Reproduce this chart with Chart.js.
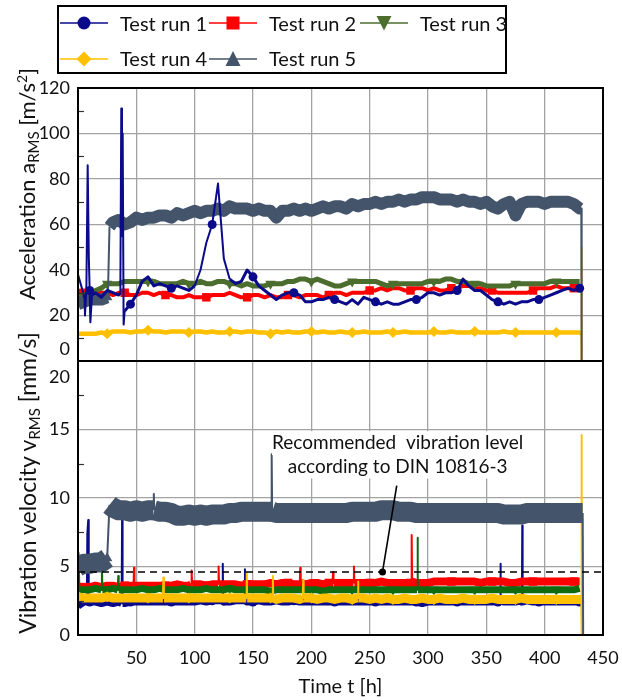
<!DOCTYPE html>
<html>
<head>
<meta charset="utf-8">
<title>Test runs: acceleration and vibration velocity</title>
<script src="https://cdn.jsdelivr.net/npm/chart.js@4.4.1/dist/chart.umd.min.js"></script>
<style>
  body { margin: 0; background: #fff; font-family: Lato, sans-serif; color: #111; }
  #page { position: relative; width: 622px; height: 700px; overflow: hidden; }
  canvas { position: absolute; left: 0; }
  #accChart { top: 0; }
  #velChart { top: 340px; }
  #legendBox { position: absolute; left: 57px; top: 5px; width: 446px; height: 65px; border: 2px solid #000; }
  .legend-sym { position: absolute; width: 48px; height: 24px; }
  .legend-text { position: absolute; font-size: 20px; line-height: 24px; white-space: nowrap; }
  .axis-title { position: absolute; left: 27px; transform: translate(-50%, -50%) rotate(-90deg);
                white-space: nowrap; line-height: 1; }
  .axis-title sub { font-size: 15px; vertical-align: -4px; line-height: 0; }
  .axis-title sup { font-size: 14px; vertical-align: 8px; line-height: 0; }
</style>
</head>
<body>
<div id="page">
  <canvas id="accChart" width="622" height="370"></canvas>
  <canvas id="velChart" width="622" height="360"></canvas>
  <div id="legendBox"></div>
  <div class="axis-title" style="top:184px;font-size:22px">Acceleration a<sub>RMS</sub> [m/s<sup>2</sup>]</div>
  <div class="axis-title" style="top:483px;font-size:23px">Vibration velocity v<sub>RMS</sub> [mm/s]</div>
</div>
<script>
// sample times [h], one sample every 5 h
const hours = [0, 5, 10, 15, 20, 25, 30, 35, 40, 45,
  50, 55, 60, 65, 70, 75, 80, 85, 90, 95,
  100, 105, 110, 115, 120, 125, 130, 135, 140, 145,
  150, 155, 160, 165, 170, 175, 180, 185, 190, 195,
  200, 205, 210, 215, 220, 225, 230, 235, 240, 245,
  250, 255, 260, 265, 270, 275, 280, 285, 290, 295,
  300, 305, 310, 315, 320, 325, 330, 335, 340, 345,
  350, 355, 360, 365, 370, 375, 380, 385, 390, 395,
  400, 405, 410, 415, 420, 425, 430];

const runLabels = ['Test run 1', 'Test run 2', 'Test run 3', 'Test run 4', 'Test run 5'];

// acceleration a_RMS [m/s²]
const accRun1 = [38, 29, 31, 30, 28, 31, 30, 29, 22, 25,
  29, 35, 37, 33, 34, 33, 32, 33, 32, 31,
  33, 40, 52, 60, 78, 45, 36, 34, 35, 40,
  37, 33, 31, 29, 27, 29, 30, 30, 29, 26,
  26, 27, 27, 28, 27, 26, 25, 27, 25, 28,
  27, 26, 25, 26, 25, 25, 26, 27, 27, 28,
  30, 30, 29, 30, 30, 31, 36, 33, 31, 31,
  29, 27, 26, 25, 26, 25, 26, 26, 27, 27,
  28, 29, 30, 31, 32, 31, 32];
const accRun2 = [31, 30, 29, 30, 30, 30, 29, 30, 30, 29,
  29, 30, 30, 29, 30, 29, 29, 28, 28, 29,
  28, 28, 28, 29, 29, 29, 30, 29, 28, 28,
  29, 29, 28, 29, 28, 28, 29, 29, 28, 29,
  29, 29, 28, 29, 30, 30, 29, 30, 30, 30,
  31, 31, 32, 31, 32, 32, 31, 31, 32, 32,
  31, 32, 31, 31, 32, 32, 33, 33, 32, 32,
  31, 31, 30, 30, 30, 30, 30, 30, 31, 32,
  32, 32, 33, 32, 32, 32, 32];
const accRun3 = [28, 29, 30, 31, 32, 34, 34, 34, 35, 35,
  35, 35, 35, 35, 34, 34, 34, 34, 35, 34,
  34, 35, 34, 34, 35, 35, 34, 34, 33, 34,
  33, 33, 33, 34, 34, 34, 35, 35, 36, 36,
  35, 36, 35, 34, 33, 33, 34, 35, 35, 35,
  35, 35, 34, 33, 34, 34, 34, 34, 34, 34,
  35, 35, 35, 36, 36, 35, 35, 34, 34, 34,
  33, 33, 33, 33, 33, 34, 34, 34, 34, 34,
  34, 35, 35, 35, 35, 35, 35];
const accRun4 = [12, 12, 12, 12, 12.5, 12, 13, 13, 13, 12.5,
  13, 13, 13.5, 13, 13, 12.5, 13, 13, 13, 12.5,
  13, 13, 12.5, 13, 12.5, 12.5, 13, 13, 12.5, 13,
  13, 12.5, 12.5, 12, 13, 12.5, 13, 12.5, 12.5, 13,
  13, 12.5, 13, 12.5, 12.5, 13, 12.5, 12.5, 12.5, 13,
  12.5, 12.5, 12.5, 13, 12.5, 12.5, 13, 12.5, 12.5, 12.5,
  12.5, 13, 12.5, 12.5, 13, 12.5, 12.5, 12.5, 13, 12.5,
  12.5, 12.5, 12.5, 13, 12.5, 12.5, 12.5, 12.5, 12.5, 12.5,
  12.5, 12.5, 12.5, 12.5, 12.5, 12.5, 12.5];
const accRun5 = [25, 26, 27, 27, 27, 28, 61, 62, 60, 61,
  63, 62, 63, 63, 64, 64, 63, 65, 64, 65,
  66, 65, 66, 66, 67, 66, 68, 67, 67, 67,
  66, 67, 66, 66, 63, 66, 66, 67, 66, 67,
  66, 67, 68, 67, 68, 68, 67, 69, 68, 69,
  69, 70, 69, 70, 70, 71, 70, 71, 71, 72,
  72, 72, 71, 71, 71, 70, 71, 70, 70, 69,
  70, 68, 67, 69, 70, 64, 69, 70, 70, 70,
  69, 70, 70, 70, 70, 69, 67];

// short events between the 5 h samples: [t, value]
const accRun1Extra = [[5.6, 28], [6, 20], [7.2, 33], [8.3, 86], [9.3, 45], [10.6, 17], [12, 29],
  [36.3, 30], [37.1, 111], [37.7, 55], [38.3, 100], [39.1, 16]];
const accRun2Extra = [];
const accRun3Extra = [];
const accRun4Extra = [[431.4, 12], [431.6, 50], [431.8, 0]];
const accRun5Extra = [[25.6, 28], [27, 59], [431.4, 67], [431.7, 0]];

// vibration velocity v_RMS [mm/s]
const velRun1 = [2.1, 2.4, 2.4, 2.4, 2.3, 2.4, 2.3, 2.4, 2.3, 2.4,
  2.4, 2.4, 2.4, 2.4, 2.4, 2.4, 2.4, 2.4, 2.4, 2.4,
  2.4, 2.5, 2.4, 2.5, 2.5, 2.4, 2.4, 2.5, 2.5, 2.4,
  2.4, 2.5, 2.4, 2.4, 2.5, 2.4, 2.4, 2.5, 2.4, 2.4,
  2.4, 2.4, 2.4, 2.4, 2.4, 2.4, 2.4, 2.4, 2.4, 2.4,
  2.4, 2.4, 2.4, 2.4, 2.4, 2.4, 2.4, 2.4, 2.4, 2.3,
  2.4, 2.4, 2.4, 2.4, 2.4, 2.4, 2.4, 2.4, 2.4, 2.4,
  2.4, 2.4, 2.4, 2.4, 2.4, 2.4, 2.5, 2.5, 2.4, 2.4,
  2.4, 2.4, 2.4, 2.4, 2.4, 2.4, 2.4];
const velRun2 = [3.4, 3.5, 3.5, 3.6, 3.5, 3.6, 3.6, 3.5, 3.6, 3.6,
  3.6, 3.6, 3.6, 3.6, 3.6, 3.6, 3.6, 3.7, 3.6, 3.6,
  3.7, 3.7, 3.6, 3.7, 3.7, 3.7, 3.7, 3.7, 3.6, 3.7,
  3.7, 3.7, 3.7, 3.8, 3.7, 3.8, 3.8, 3.7, 3.7, 3.7,
  3.8, 3.8, 3.7, 3.8, 3.8, 3.8, 3.8, 3.8, 3.8, 3.8,
  3.8, 3.8, 3.9, 3.8, 3.8, 3.8, 3.8, 3.8, 3.8, 3.8,
  3.8, 3.9, 3.9, 3.9, 3.9, 3.9, 3.9, 3.9, 3.9, 3.8,
  3.9, 3.9, 3.9, 3.9, 3.8, 3.8, 3.9, 3.9, 3.9, 3.9,
  3.9, 3.9, 3.9, 3.9, 3.9, 3.9, 3.9];
const velRun3 = [3.4, 3.3, 3.3, 3.4, 3.3, 3.3, 3.4, 3.3, 3.3, 3.3,
  3.3, 3.4, 3.3, 3.3, 3.4, 3.3, 3.3, 3.3, 3.4, 3.3,
  3.3, 3.3, 3.4, 3.3, 3.3, 3.3, 3.4, 3.3, 3.3, 3.3,
  3.3, 3.3, 3.3, 3.2, 3.3, 3.3, 3.3, 3.3, 3.3, 3.3,
  3.3, 3.3, 3.2, 3.3, 3.3, 3.3, 3.3, 3.3, 3.3, 3.3,
  3.3, 3.3, 3.3, 3.3, 3.3, 3.3, 3.3, 3.3, 3.3, 3.3,
  3.3, 3.3, 3.3, 3.3, 3.3, 3.3, 3.3, 3.3, 3.3, 3.3,
  3.3, 3.3, 3.3, 3.3, 3.3, 3.3, 3.3, 3.3, 3.3, 3.3,
  3.3, 3.3, 3.3, 3.3, 3.3, 3.3, 3.4];
const velRun4 = [2.8, 2.7, 2.7, 2.7, 2.7, 2.8, 2.7, 2.7, 2.7, 2.7,
  2.7, 2.7, 2.7, 2.7, 2.7, 2.7, 2.7, 2.7, 2.7, 2.7,
  2.7, 2.7, 2.7, 2.7, 2.7, 2.7, 2.7, 2.7, 2.7, 2.7,
  2.7, 2.7, 2.7, 2.7, 2.6, 2.7, 2.7, 2.7, 2.6, 2.7,
  2.7, 2.6, 2.7, 2.7, 2.6, 2.7, 2.7, 2.6, 2.7, 2.7,
  2.6, 2.7, 2.6, 2.7, 2.6, 2.6, 2.7, 2.6, 2.6, 2.7,
  2.6, 2.6, 2.7, 2.6, 2.6, 2.6, 2.7, 2.6, 2.6, 2.6,
  2.6, 2.7, 2.6, 2.6, 2.6, 2.6, 2.7, 2.6, 2.6, 2.6,
  2.6, 2.6, 2.6, 2.6, 2.6, 2.6, 2.6];
const velRun5 = [5.0, 5.2, 5.2, 5.3, 5.3, 5.6, 9.3, 9.1, 9.1, 9.0,
  9.1, 9.0, 9.1, 9.1, 9.0, 9.0, 8.9, 8.7, 8.7, 8.8,
  8.7, 8.8, 8.7, 8.8, 8.8, 8.8, 8.9, 8.9, 9.0, 9.0,
  9.0, 9.0, 9.0, 9.0, 8.9, 8.9, 8.9, 8.9, 8.9, 8.9,
  8.9, 8.9, 8.9, 8.9, 8.9, 8.9, 8.9, 9.0, 9.0, 9.0,
  9.0, 9.0, 9.1, 9.1, 9.1, 9.0, 9.0, 9.0, 8.9, 8.9,
  8.9, 8.9, 8.9, 8.9, 8.9, 8.9, 8.9, 8.9, 8.9, 8.9,
  8.9, 8.9, 8.9, 8.8, 8.8, 8.8, 8.8, 8.9, 8.9, 8.9,
  8.9, 8.9, 8.9, 8.9, 8.9, 8.9, 8.9];

const velRun1Extra = [[7.6, 2.4], [8, 7.4], [8.8, 8.4], [9.2, 2.4], [37.4, 2.3], [37.8, 8.5], [38.2, 2.3],
  [123.8, 2.5], [124.1, 5.2], [124.4, 2.5], [142.8, 2.5], [143.1, 4.8], [143.4, 2.5],
  [361.8, 2.5], [362.1, 5.2], [362.4, 2.5], [380.5, 2.4], [380.8, 8.0], [381.1, 2.4]];
const velRun2Extra = [[47.6, 3.6], [48, 4.9], [48.4, 3.6], [97, 3.7], [97.4, 4.7], [97.8, 3.7],
  [120.1, 3.7], [120.5, 5.0], [120.9, 3.7], [190.1, 3.8], [190.5, 4.9], [190.9, 3.8],
  [218.2, 3.8], [218.6, 4.6], [219, 3.8], [236.1, 3.8], [236.5, 5.0], [236.9, 3.8],
  [285.6, 3.9], [286, 7.3], [286.4, 3.9]];
const velRun3Extra = [[0.4, 6.0], [1.2, 3.3], [20.1, 3.3], [20.5, 5.2], [20.9, 3.3],
  [34.1, 3.3], [34.5, 4.3], [34.9, 3.3], [290.6, 3.3], [291, 7.1], [291.4, 3.3]];
const velRun4Extra = [[72.8, 2.7], [73.2, 4.2], [73.6, 2.7], [144.2, 2.7], [144.6, 4.5], [145, 2.7],
  [166.6, 2.7], [167, 4.3], [167.4, 2.7], [192.6, 2.7], [193, 4.0], [193.4, 2.7],
  [239.6, 2.7], [240, 3.9], [240.4, 2.7], [431.4, 2.6], [431.6, 14.6], [431.8, 0]];
const velRun5Extra = [[64.6, 9.1], [65, 10.3], [65.4, 9.1], [27, 9.5],
  [165.6, 9.0], [166, 13.2], [166.4, 9.0], [432.6, 8.9], [433, 0]];

// recommended limit (DIN 10816-3) and its note
const velLimit = 4.6;
const noteLines = ['Recommended  vibration level', 'according to DIN 10816-3'];
const noteAt = { t: 274, line1: 14.0, line2: 12.3 };
const leaderFrom = [273.2, 10.9];
const leaderTo = [261, velLimit];

// ---- styles ----
const accColors = ['#0a0a8a', '#ff0000', '#4b6e2e', '#ffc000', '#44546a'];
const velColors = ['#0a0a8a', '#ff0000', '#0f6a10', '#ffc000', '#44546a'];
const accWidths = [3, 4, 5, 4.5, 12];
const velWidths = [7, 8, 7, 9, 20];
const accOrder = [0, 4, 3, 2, 1];
const velOrder = [4, 3, 2, 1, 0];
const markerFirst = [10, 5, 25, 25, 25];   // first marked sample, then every 35 h
const markerStyles = [
  { style: 'circle', radius: 4.5, rotation: 0 },
  { style: 'rect', radius: 6, rotation: 0 },
  { style: 'triangle', radius: 6, rotation: 180 },
  { style: 'rectRot', radius: 5.5, rotation: 0 },
  { style: 'triangle', radius: 6, rotation: 0 }
];
const gridColor = '#a3a3a3';
const textColor = '#111';

Chart.defaults.font.family = 'Lato';
Chart.defaults.color = textColor;

function buildPoints(vals, extra) {
  const pts = hours.map((t, i) => ({ x: t, y: vals[i] }));
  extra.forEach(([t, v]) => pts.push({ x: t, y: v }));
  return pts.sort((a, b) => a.x - b.x);
}

// near-vertical pieces (peaks, start-up, shutdown) are drawn with a hairline
const steep = (p0, p1) => Math.abs(p1.y - p0.y) > Math.max(6, 2.5 * Math.abs(p1.x - p0.x));

function runDataset(i, vals, extra, colors, widths, order) {
  const m = markerStyles[i];
  return {
    label: runLabels[i],
    data: buildPoints(vals, extra),
    order: order[i],
    borderColor: colors[i],
    backgroundColor: colors[i],
    borderWidth: widths[i],
    borderJoinStyle: 'round',
    pointStyle: m.style,
    pointRotation: m.rotation,
    pointRadius: c => (c.raw && (c.raw.x - markerFirst[i]) % 35 === 0) ? m.radius : 0,
    pointBackgroundColor: colors[i],
    pointBorderColor: colors[i],
    pointBorderWidth: 0,
    pointHoverRadius: 0,
    segment: { borderWidth: c => steep(c.p0, c.p1) ? 2 : undefined }
  };
}

const frame = {
  id: 'frame',
  afterDatasetsDraw(chart) {
    const { ctx, chartArea: a } = chart;
    ctx.save();
    ctx.strokeStyle = '#000';
    ctx.lineWidth = 2;
    ctx.strokeRect(a.left, a.top, a.right - a.left, a.bottom - a.top);
    ctx.restore();
  }
};

const minorTicks = values => ({
  id: 'minorTicks',
  afterDatasetsDraw(chart) {
    const { ctx, chartArea: a, scales: { y } } = chart;
    ctx.save();
    ctx.strokeStyle = '#333';
    ctx.lineWidth = 1.2;
    values.forEach(v => {
      const py = Math.round(y.getPixelForValue(v)) + 0.5;
      ctx.beginPath();
      ctx.moveTo(a.left, py);
      ctx.lineTo(a.left + 6, py);
      ctx.stroke();
    });
    ctx.restore();
  }
});

// the shared corner label is nudged away from the neighbouring panel
const shiftedTick = (value, dy) => ({
  id: 'shiftedTick',
  afterDraw(chart) {
    const { ctx, scales: { y } } = chart;
    ctx.save();
    ctx.font = '18px Lato';
    ctx.fillStyle = textColor;
    ctx.textAlign = 'right';
    ctx.textBaseline = 'middle';
    ctx.fillText(String(value), y.right - 8, y.getPixelForValue(value) + dy);
    ctx.restore();
  }
});

const limitNote = {
  id: 'limitNote',
  afterDatasetsDraw(chart) {
    const { ctx, chartArea: a, scales: { x, y } } = chart;
    const ly = y.getPixelForValue(velLimit);
    ctx.save();
    ctx.strokeStyle = '#000';
    ctx.lineWidth = 1.5;
    ctx.setLineDash([7, 5]);
    ctx.beginPath();
    ctx.moveTo(a.left, ly);
    ctx.lineTo(a.right, ly);
    ctx.stroke();
    ctx.setLineDash([]);

    // white patch only behind each text line, so nearby peaks stay visible
    ctx.font = '19px Lato';
    const cx = x.getPixelForValue(noteAt.t);
    const rows = [y.getPixelForValue(noteAt.line1), y.getPixelForValue(noteAt.line2)];
    ctx.fillStyle = '#fff';
    noteLines.forEach((t, k) => {
      const w = ctx.measureText(t).width;
      ctx.fillRect(cx - w / 2, rows[k] - 12, w, 24);
    });
    ctx.fillStyle = textColor;
    ctx.textAlign = 'center';
    ctx.textBaseline = 'middle';
    noteLines.forEach((t, k) => ctx.fillText(t, cx, rows[k]));

    ctx.strokeStyle = '#000';
    ctx.lineWidth = 1.6;
    ctx.beginPath();
    ctx.moveTo(x.getPixelForValue(leaderFrom[0]), y.getPixelForValue(leaderFrom[1]));
    ctx.lineTo(x.getPixelForValue(leaderTo[0]), y.getPixelForValue(leaderTo[1]));
    ctx.stroke();
    ctx.fillStyle = '#000';
    ctx.beginPath();
    ctx.arc(x.getPixelForValue(leaderTo[0]), y.getPixelForValue(leaderTo[1]), 3.5, 0, Math.PI * 2);
    ctx.fill();
    ctx.restore();
  }
};

const gridOpts = { color: gridColor, lineWidth: 1.3, drawTicks: false };

// fixed axis boxes so both panels share the same left edge and meet at their border
const fixY = s => { s.width = 78; s.paddingTop = 0; s.paddingBottom = 0; };
const fixX = h => s => { s.height = h; s.paddingLeft = 0; s.paddingRight = 0; };

new Chart(document.getElementById('accChart'), {
  type: 'line',
  data: {
    datasets: [
      runDataset(0, accRun1, accRun1Extra, accColors, accWidths, accOrder),
      runDataset(1, accRun2, accRun2Extra, accColors, accWidths, accOrder),
      runDataset(2, accRun3, accRun3Extra, accColors, accWidths, accOrder),
      runDataset(3, accRun4, accRun4Extra, accColors, accWidths, accOrder),
      runDataset(4, accRun5, accRun5Extra, accColors, accWidths, accOrder)
    ]
  },
  options: {
    responsive: false,
    animation: false,
    events: [],
    layout: { padding: { top: 88, right: 19, bottom: 9, left: 0 } },
    plugins: { legend: { display: false }, tooltip: { enabled: false } },
    scales: {
      x: {
        type: 'linear', min: 0, max: 450,
        ticks: { display: false, stepSize: 50 },
        grid: gridOpts,
        border: { display: false },
        afterFit: fixX(0)
      },
      y: {
        min: 0, max: 120,
        ticks: { stepSize: 20, padding: 8, font: { size: 18 }, color: textColor,
                 callback: v => v === 0 ? '' : v },
        grid: gridOpts,
        border: { display: false },
        afterFit: fixY
      }
    }
  },
  plugins: [minorTicks([10, 30, 50, 70, 90, 110]), shiftedTick(0, -12), frame]
});

new Chart(document.getElementById('velChart'), {
  type: 'line',
  data: {
    datasets: [
      runDataset(0, velRun1, velRun1Extra, velColors, velWidths, velOrder),
      runDataset(1, velRun2, velRun2Extra, velColors, velWidths, velOrder),
      runDataset(2, velRun3, velRun3Extra, velColors, velWidths, velOrder),
      runDataset(3, velRun4, velRun4Extra, velColors, velWidths, velOrder),
      runDataset(4, velRun5, velRun5Extra, velColors, velWidths, velOrder)
    ]
  },
  options: {
    responsive: false,
    animation: false,
    events: [],
    layout: { padding: { top: 21, right: 19, bottom: 0, left: 0 } },
    plugins: { legend: { display: false }, tooltip: { enabled: false } },
    scales: {
      x: {
        type: 'linear', min: 0, max: 450,
        ticks: { stepSize: 50, padding: 12, maxRotation: 0, autoSkip: false,
                 font: { size: 18 }, color: textColor,
                 callback: v => v === 0 ? '' : v },
        title: { display: true, text: 'Time t [h]', font: { size: 20 }, color: textColor,
                 padding: { top: 0, bottom: 1 } },
        grid: gridOpts,
        border: { display: false },
        afterFit: fixX(65)
      },
      y: {
        min: 0, max: 20,
        ticks: { stepSize: 5, padding: 8, font: { size: 18 }, color: textColor,
                 callback: v => v === 20 ? '' : v },
        grid: gridOpts,
        border: { display: false },
        afterFit: fixY
      }
    }
  },
  plugins: [minorTicks([2.5, 7.5, 12.5, 17.5]), shiftedTick(20, 16), limitNote, frame]
});

// legend: line with marker, then the run name
const legendSymbols = [
  '<circle cx="24" cy="12" r="6.5"/>',
  '<rect x="17.5" y="5.5" width="13" height="13"/>',
  '<polygon points="16.5,5 31.5,5 24,19.5"/>',
  '<polygon points="24,4.5 31.5,12 24,19.5 16.5,12"/>',
  '<polygon points="24,4 31.5,19 16.5,19"/>'
];
const legendSlots = [[60, 23], [209, 23], [360, 23], [60, 58.5], [209, 58.5]];
const page = document.getElementById('page');
runLabels.forEach((name, i) => {
  const [lx, ly] = legendSlots[i];
  const c = accColors[i];
  const sym = document.createElement('div');
  sym.className = 'legend-sym';
  sym.style.left = lx + 'px';
  sym.style.top = (ly - 12) + 'px';
  sym.innerHTML = '<svg width="48" height="24"><line x1="0" y1="12" x2="48" y2="12" stroke="' + c +
    '" stroke-width="1.6"/><g fill="' + c + '">' + legendSymbols[i] + '</g></svg>';
  page.appendChild(sym);
  const txt = document.createElement('div');
  txt.className = 'legend-text';
  txt.style.left = (lx + 60) + 'px';
  txt.style.top = (ly - 12.5) + 'px';
  txt.textContent = name;
  page.appendChild(txt);
});
</script>
</body>
</html>
